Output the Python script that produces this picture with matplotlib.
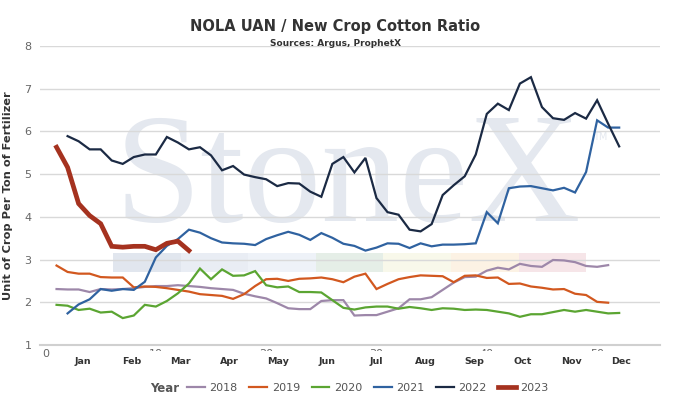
import matplotlib
matplotlib.use("Agg")
import matplotlib.pyplot as plt
import matplotlib.patches as mpatches
from matplotlib.transforms import blended_transform_factory
import numpy as np

# weekly ratio values
weeks_2018 = np.arange(1, 52)
v2018 = [2.31, 2.30, 2.30, 2.24, 2.31, 2.30, 2.31, 2.33, 2.36, 2.38,
         2.38, 2.40, 2.38, 2.36, 2.33, 2.31, 2.29, 2.20, 2.14, 2.09,
         1.98, 1.86, 1.84, 1.84, 2.03, 2.05, 2.05, 1.69, 1.70, 1.70,
         1.78, 1.86, 2.07, 2.07, 2.12, 2.29, 2.46, 2.59, 2.60, 2.74,
         2.81, 2.77, 2.90, 2.85, 2.83, 2.99, 2.98, 2.94, 2.85, 2.83, 2.87]

weeks_2019 = np.arange(1, 52)
v2019 = [2.86, 2.71, 2.67, 2.67, 2.59, 2.58, 2.58, 2.35, 2.37, 2.36,
         2.33, 2.29, 2.25, 2.19, 2.17, 2.15, 2.08, 2.19, 2.38, 2.54,
         2.55, 2.50, 2.55, 2.56, 2.58, 2.54, 2.47, 2.60, 2.67, 2.31,
         2.43, 2.54, 2.59, 2.63, 2.62, 2.61, 2.47, 2.62, 2.63, 2.57,
         2.58, 2.43, 2.44, 2.37, 2.34, 2.30, 2.31, 2.20, 2.17, 2.01, 1.99]

weeks_2020 = np.arange(1, 53)
v2020 = [1.94, 1.92, 1.82, 1.85, 1.76, 1.78, 1.63, 1.69, 1.94, 1.90,
         2.03, 2.21, 2.44, 2.79, 2.54, 2.77, 2.62, 2.63, 2.73, 2.40,
         2.35, 2.37, 2.24, 2.24, 2.23, 2.05, 1.87, 1.83, 1.88, 1.90,
         1.90, 1.85, 1.89, 1.86, 1.82, 1.86, 1.85, 1.82, 1.83, 1.82,
         1.78, 1.74, 1.66, 1.72, 1.72, 1.77, 1.82, 1.78, 1.82, 1.78,
         1.74, 1.75]

weeks_2021 = np.arange(2, 53)
v2021 = [1.74, 1.95, 2.07, 2.31, 2.27, 2.31, 2.29, 2.48, 3.05,
         3.32, 3.48, 3.70, 3.63, 3.50, 3.40, 3.38, 3.37, 3.34, 3.48,
         3.57, 3.65, 3.58, 3.46, 3.62, 3.51, 3.37, 3.32, 3.21, 3.28,
         3.38, 3.37, 3.27, 3.38, 3.31, 3.35, 3.35, 3.36, 3.38, 4.11,
         3.85, 4.67, 4.71, 4.72, 4.67, 4.62, 4.68, 4.57, 5.05, 6.26, 6.09, 6.09]

weeks_2022 = np.arange(2, 53)
v2022 = [5.89, 5.77, 5.58, 5.58, 5.32, 5.24, 5.40, 5.46, 5.46,
         5.87, 5.74, 5.58, 5.63, 5.44, 5.09, 5.19, 4.99, 4.93, 4.88,
         4.72, 4.79, 4.78, 4.59, 4.47, 5.24, 5.40, 5.04, 5.38, 4.44,
         4.11, 4.05, 3.70, 3.66, 3.83, 4.51, 4.74, 4.95, 5.46, 6.41,
         6.65, 6.50, 7.12, 7.27, 6.57, 6.31, 6.27, 6.43, 6.30, 6.73, 6.18, 5.65]

weeks_2023 = np.arange(1, 14)
v2023 = [5.63, 5.16, 4.31, 4.03, 3.84, 3.31, 3.29, 3.31, 3.31, 3.23, 3.38, 3.43, 3.21]

months = ['Jan', 'Feb', 'Mar', 'Apr', 'May', 'Jun',
          'Jul', 'Aug', 'Sep', 'Oct', 'Nov', 'Dec']

series = [
    ('2018', weeks_2018, v2018, '#9d87a9', 1.6),
    ('2019', weeks_2019, v2019, '#d2581f', 1.6),
    ('2020', weeks_2020, v2020, '#5ba532', 1.6),
    ('2021', weeks_2021, v2021, '#2f62a0', 1.6),
    ('2022', weeks_2022, v2022, '#1b2a44', 1.6),
    ('2023', weeks_2023, v2023, '#a5321f', 3.4),
]

fig = plt.figure(figsize=(6.75, 4.08), dpi=100)
ax = fig.add_axes([40 / 675, 1 - 345 / 408, 620 / 675, 299 / 408])
ax.set_facecolor('none')
ax.set_zorder(2)

# watermark behind the plot
fig.text(115 / 675, 1 - 221 / 408, 'StoneX', family='Liberation Serif',
         fontsize=112, color='#e4e8ef', ha='left', va='baseline', zorder=0)
fig.text(593 / 675, 1 - 137 / 408, 'TM', fontsize=7, color='#e4e8ef',
         ha='left', va='center', zorder=0)
band_cols = ['#e1e6ee', '#e9edf4', '#eef2f8', '#e5eee7', '#f8f8ea', '#fcf2e4', '#f6e5e8']
for i, c in enumerate(band_cols):
    fig.add_artist(mpatches.Rectangle(((113 + i * 67.6) / 675, 1 - 272 / 408),
                                      67.6 / 675, 19 / 408, transform=fig.transFigure,
                                      facecolor=c, edgecolor='none', zorder=0))

handles = []
for name, w, v, col, lw in series:
    ln, = ax.plot(w, v, color=col, lw=lw, label=name, solid_joinstyle='miter')
    handles.append(ln)

ax.set_xlim(-0.5, 55.7)
ax.set_ylim(1, 8)
ax.set_yticks(range(1, 9))
ax.set_xticks(range(0, 60, 10))
ax.grid(axis='y', color='#d9d9d9', lw=1)
ax.set_axisbelow(True)
for s in ['top', 'right', 'left']:
    ax.spines[s].set_visible(False)
ax.spines['bottom'].set_color('#d0d0d0')
ax.spines['bottom'].set_linewidth(1.5)
ax.tick_params(axis='both', length=0, labelsize=8, labelcolor='#666666')
ax.tick_params(axis='x', pad=3)
ax.tick_params(axis='y', pad=6)

# month axis sits on a white strip that hides most of the week numbers
fig.add_artist(mpatches.Rectangle((58 / 675, 1 - 374 / 408), 600 / 675, 23 / 408,
                                  transform=fig.transFigure, facecolor='white',
                                  edgecolor='none', zorder=5))
trans = blended_transform_factory(ax.transData, fig.transFigure)
for i, m in enumerate(months):
    fig.text(0, 1 - 362 / 408, m, transform=trans, fontsize=6.8, fontweight='bold',
             color='#333333', ha='center', va='center', zorder=6)
    fig.texts[-1].set_x(3.4 + i * 4.43)

ax.set_ylabel('Unit of Crop Per Ton of Fertilizer', fontsize=8.2, fontweight='bold',
              color='#333333', labelpad=8)

fig.text(0.497, 1 - 27 / 408, 'NOLA UAN / New Crop Cotton Ratio', fontsize=10.5,
         fontweight='bold', color='#333333', ha='center', va='center')
fig.text(0.497, 1 - 43 / 408, 'Sources: Argus, ProphetX', fontsize=6.5,
         fontweight='bold', color='#333333', ha='center', va='center')

leg = fig.legend(handles=handles, loc='center', bbox_to_anchor=(368 / 675, 1 - 388 / 408),
                 ncol=6, frameon=False, fontsize=8, labelcolor='#555555',
                 handlelength=1.6, handletextpad=0.4, columnspacing=1.05)
leg.set_zorder(7)
fig.text(179 / 675, 1 - 388 / 408, 'Year', fontsize=8.5, fontweight='bold',
         color='#555555', ha='right', va='center', zorder=7)

fig.savefig('out.png', dpi=100)
